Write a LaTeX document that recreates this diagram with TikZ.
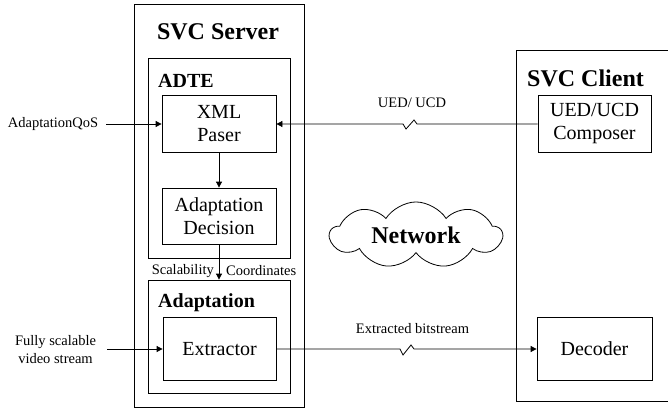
\documentclass[tikz,border=0pt]{standalone}
\usepackage{fontspec}
\setmainfont{Liberation Serif}
\usetikzlibrary{arrows.meta,shapes.symbols}

\tikzset{
  frame/.style={draw, line width=0.8pt, inner sep=0pt},
  unit/.style={frame, align=center, font=\fontsize{20}{23}\selectfont},
  title/.style={font=\bfseries\fontsize{24}{26}\selectfont, inner sep=0pt},
  subtitle/.style={font=\bfseries\fontsize{20}{22}\selectfont, inner sep=0pt},
  small/.style={font=\fontsize{14.5}{18}\selectfont, align=center, inner sep=0pt},
  link/.style={line width=0.8pt, -{Triangle[length=6pt,width=6pt]}},
}

\begin{document}
\begin{tikzpicture}[x=1pt, y=-1pt]
\useasboundingbox (0,0) rectangle (668,409);

\node[frame, minimum width=170, minimum height=403] (server) at (219,205.5) {}; % server
\node[title] (servertitle) at (218,32) {SVC Server}; % server
\node[frame, minimum width=142, minimum height=200] (adte) at (219,158) {}; % adte
\node[subtitle, anchor=west] (adtetitle) at (158,81) {ADTE}; % adte
\node[unit, minimum width=114, minimum height=57] (xml) at (219,124) {XML\\Paser}; % adte.1
\node[unit, minimum width=114, minimum height=56] (decision) at (219,216) {Adaptation\\Decision}; % adte.2
\node[frame, minimum width=142, minimum height=113] (adapt) at (219,336.5) {}; % adaptation
\node[subtitle, anchor=west] (adapttitle) at (158,303) {Adaptation}; % adaptation
\node[unit, minimum width=113, minimum height=63] (extractor) at (219.5,349) {Extractor}; % adaptation.1

\draw[frame] (668,50) -- (516,50) -- (516,401) -- (668,401); % client
\node[title] (clienttitle) at (585.5,78) {SVC Client}; % client
\node[unit, minimum width=113, minimum height=57] (composer) at (594.5,124) {UED/UCD\\Composer}; % client.1
\node[unit, minimum width=115, minimum height=63] (decoder) at (594.5,349) {Decoder}; % client.2

\node[cloud, draw, line width=0.8pt, cloud puffs=9, cloud puff arc=115, aspect=2.8,
      minimum width=172, minimum height=62, inner sep=0pt,
      font=\bfseries\fontsize{24}{26}\selectfont] (network) at (416,235) {Network}; % network

\node[small] (qos) at (53,124) {AdaptationQoS}; % input.1
\node[small] (stream) at (55.5,350) {Fully scalable\\video stream}; % input.2
\node[small] (uedlabel) at (412,103) {UED/ UCD}; % feedback
\node[small] (bitlabel) at (412.5,329) {Extracted bitstream}; % output
\node[small, anchor=east] (scal) at (214,271) {Scalability}; % coords
\node[small, anchor=west] (coord) at (226,271) {Coordinates}; % coords

\draw[link, shorten <=8pt] (qos) -- (xml); % qos to xml
\draw[link] (xml) -- (decision); % xml to decision
\draw[link] (decision) -- (adapt); % decision to adaptation
\draw[link, shorten <=11pt] (stream.east |- extractor) -- (extractor); % stream to extractor
\draw[link] (composer.west) -- (417,124) -- (414,120) -- (406,129) -- (403,124) -- (xml.east); % feedback
\draw[link] (extractor.east) -- (400,349) -- (403,355) -- (411,345) -- (414,349) -- (decoder.west); % output

\end{tikzpicture}
\end{document}
